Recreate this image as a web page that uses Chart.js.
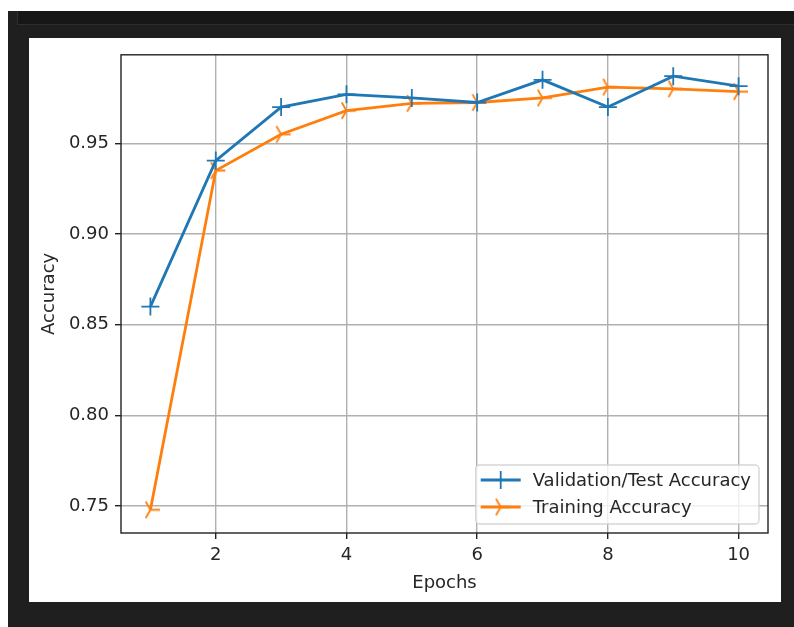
<!DOCTYPE html>
<html>
<head>
<meta charset="utf-8">
<script src="https://cdn.jsdelivr.net/npm/chart.js@4.4.1/dist/chart.umd.min.js"></script>
<style>
  body { margin: 0; background: #fff; width: 794px; height: 627px; overflow: hidden; position: relative; }
  #dark { position: absolute; left: 8px; top: 11px; right: 0; bottom: 0; background: #1f1f1f; }
  #band { position: absolute; left: 17px; top: 11px; right: 0; height: 13px; background: #171717;
          border-left: 1px solid #2e2e2e; border-bottom: 1px solid #2e2e2e; }
  #fig { position: absolute; left: 29px; top: 38px; width: 752px; height: 564px; background: #fff; }
</style>
</head>
<body>
<div id="dark"></div>
<div id="band"></div>
<div id="fig"><canvas id="chart" width="752" height="564"></canvas></div>
<script>
'use strict';

// data

const epochs = [1, 2, 3, 4, 5, 6, 7, 8, 9, 10];
const valAcc = [0.860, 0.9405, 0.970, 0.977, 0.975, 0.9725, 0.985, 0.970, 0.987, 0.9815];
const trainAcc = [0.748, 0.935, 0.955, 0.968, 0.972, 0.9725, 0.975, 0.981, 0.980, 0.9785];

const xTicks = [2, 4, 6, 8, 10];
const yTicks = [0.75, 0.80, 0.85, 0.90, 0.95];

const seriesNames = ['Validation/Test Accuracy', 'Training Accuracy'];
const xTitle = 'Epochs';
const yTitle = 'Accuracy';

// styles

const blue = '#1f77b4';
const orange = '#ff7f0e';
const font = '"DejaVu Sans", sans-serif';
const fontSize = 18;
const textColor = '#262626';

// matplotlib marker '4' (tri_right) as a little canvas

function triRight(color, r, lw) {
  let c = document.createElement('canvas');
  let s = Math.ceil(2 * r + 2 * lw);
  c.width = s;
  c.height = s;
  let g = c.getContext('2d');
  let m = s / 2;
  g.strokeStyle = color;
  g.lineWidth = lw;
  g.beginPath();
  [0, 120, 240].forEach(function (a) {
    let t = a * Math.PI / 180;
    g.moveTo(m, m);
    g.lineTo(m + r * Math.cos(t), m - r * Math.sin(t));
  });
  g.stroke();
  return c;
}

let triMarker = triRight(orange, 9.5, 1.8);

function drawCross(ctx, x, y, r, color) {
  ctx.strokeStyle = color;
  ctx.lineWidth = 1.8;
  ctx.beginPath();
  ctx.moveTo(x - r, y);
  ctx.lineTo(x + r, y);
  ctx.moveTo(x, y - r);
  ctx.lineTo(x, y + r);
  ctx.stroke();
}

function toPoints(ys) {
  return epochs.map(function (e, i) { return { x: e, y: ys[i] }; });
}

// frame, legend and axis titles

let extras = {
  id: 'extras',
  afterDatasetsDraw(chart) {
    let ctx = chart.ctx;
    let a = chart.chartArea;
    ctx.save();

    // spines
    ctx.strokeStyle = '#222';
    ctx.lineWidth = 1.4;
    ctx.strokeRect(a.left, a.top, a.right - a.left, a.bottom - a.top);

    // legend
    ctx.font = fontSize + 'px ' + font;
    let textW = Math.max.apply(null, seriesNames.map(function (n) { return ctx.measureText(n).width; }));
    let w = 57 + textW + 8;
    let h = 59;
    let x0 = a.right - 9 - w;
    let y0 = a.bottom - 9 - h;
    ctx.beginPath();
    ctx.roundRect(x0, y0, w, h, 4);
    ctx.fillStyle = 'rgba(255,255,255,0.8)';
    ctx.fill();
    ctx.strokeStyle = 'rgba(204,204,204,0.8)';
    ctx.lineWidth = 1.4;
    ctx.stroke();

    chart.data.datasets.forEach(function (ds, i) {
      let cy = y0 + 15 + i * 27;
      ctx.strokeStyle = ds.borderColor;
      ctx.lineWidth = 2.8;
      ctx.beginPath();
      ctx.moveTo(x0 + 5, cy);
      ctx.lineTo(x0 + 45, cy);
      ctx.stroke();
      if (i === 0) {
        drawCross(ctx, x0 + 25, cy, 9, blue);
      } else {
        ctx.drawImage(triMarker, x0 + 25 - triMarker.width / 2, cy - triMarker.height / 2);
      }
      ctx.fillStyle = textColor;
      ctx.textAlign = 'left';
      ctx.textBaseline = 'middle';
      ctx.fillText(seriesNames[i], x0 + 57, cy + 1);
    });

    // axis titles
    ctx.fillStyle = textColor;
    ctx.textAlign = 'center';
    ctx.textBaseline = 'middle';
    ctx.fillText(xTitle, (a.left + a.right) / 2, a.bottom + 50);
    ctx.translate(a.left - 72, (a.top + a.bottom) / 2);
    ctx.rotate(-Math.PI / 2);
    ctx.fillText(yTitle, 0, 0);
    ctx.restore();
  }
};

let canvasElem = document.getElementById('chart');

let chartObj = {
  type: 'line',
  data: {
    datasets: [{
      label: seriesNames[0],
      data: toPoints(valAcc),
      borderColor: blue,
      backgroundColor: blue,
      borderWidth: 2.8,
      pointStyle: 'cross',
      pointRadius: 9,
      pointBorderWidth: 1.8,
      pointBorderColor: blue,
      tension: 0,
      clip: false
    },
    {
      label: seriesNames[1],
      data: toPoints(trainAcc),
      borderColor: orange,
      backgroundColor: orange,
      borderWidth: 2.8,
      pointStyle: triMarker,
      pointRadius: 9,
      tension: 0,
      clip: false
    }]
  },
  options: {
    responsive: false,
    animation: false,
    devicePixelRatio: 1,
    layout: { padding: { top: 12, right: 13, left: 0, bottom: 0 } },
    plugins: {
      legend: { display: false },
      tooltip: { enabled: false }
    },
    scales: {
      x: {
        type: 'linear',
        min: 0.55,
        max: 10.45,
        afterBuildTicks: function (s) { s.ticks = xTicks.map(function (v) { return { value: v }; }); },
        afterFit: function (s) { s.height = 69; },
        grid: { color: '#b0b0b0', lineWidth: 1.4, tickColor: '#222', tickLength: 6, tickWidth: 1.4 },
        border: { display: false },
        ticks: {
          color: textColor,
          font: { family: font, size: fontSize },
          padding: 6,
          maxRotation: 0,
          callback: function (v) { return String(v); }
        }
      },
      y: {
        min: 0.7352,
        max: 0.9988,
        afterBuildTicks: function (s) { s.ticks = yTicks.map(function (v) { return { value: v }; }); },
        afterFit: function (s) { s.width = 92; },
        grid: { color: '#b0b0b0', lineWidth: 1.4, tickColor: '#222', tickLength: 6, tickWidth: 1.4 },
        border: { display: false },
        ticks: {
          color: textColor,
          font: { family: font, size: fontSize },
          padding: 6,
          callback: function (v) { return v.toFixed(2); }
        }
      }
    }
  },
  plugins: [extras]
};

new Chart(canvasElem, chartObj);
</script>
</body>
</html>
